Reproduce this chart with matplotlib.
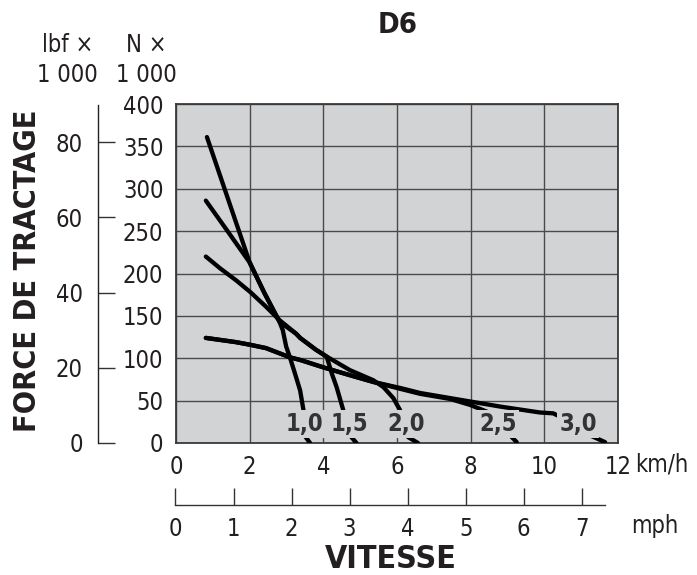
import numpy as np
import matplotlib
matplotlib.use('Agg')
import matplotlib.pyplot as plt

plt.rcParams['font.family'] = ['DejaVu Sans']
plt.rcParams['font.stretch'] = 'condensed'

# traction force curves, speed km/h vs force kN
g10_kmh = [0.84, 1.42, 2.0, 2.4, 2.81, 2.9, 2.99, 3.1, 3.23, 3.37, 3.46, 3.52, 3.64]
g10_kn = [361, 287, 213, 177, 143, 133, 114, 100, 82, 62, 39, 7, 0]
g15_kmh = [0.81, 1.4, 2.0, 2.4, 2.81, 3.26, 3.37, 3.8, 4.09, 4.23, 4.36, 4.54, 4.76, 4.9]
g15_kn = [286, 250, 213, 177, 143, 129, 124, 110, 102, 82, 66, 39, 7, 0]
g20_kmh = [0.81, 1.2, 1.63, 2.02, 2.44, 2.81, 3.26, 3.37, 3.8, 4.09, 4.72, 5.36, 5.63,
           5.9, 6.08, 6.3, 6.57]
g20_kn = [220, 206, 192, 178, 161, 145, 129, 124, 110, 102, 86, 74, 66, 53, 39, 7, 0]
g25_kmh = [0.81, 1.63, 2.0, 2.44, 3.1, 3.37, 4.02, 4.72, 5.36, 6.08, 6.63, 7.44, 7.98,
           8.44, 9.07, 9.25]
g25_kn = [124, 119, 116, 112, 101, 98, 89, 80, 72, 64, 58, 52, 45, 37, 9, 1]
g30_kmh = [0.81, 1.63, 2.0, 2.44, 3.1, 3.37, 4.02, 4.72, 5.36, 6.08, 6.63, 7.44, 8.8,
           9.88, 10.24, 10.43, 11.24, 11.65]
g30_kn = [124, 119, 116, 112, 101, 98, 89, 80, 72, 65, 59, 53, 43, 36, 35, 31, 9, 1]

gear_labels = ['1,0', '1,5', '2,0', '2,5', '3,0']
label_x = [3.49, 4.7, 6.26, 8.74, 10.92]
label_y = 22

kmh_ticks = [0, 2, 4, 6, 8, 10, 12]
kn_ticks = [0, 50, 100, 150, 200, 250, 300, 350, 400]
lbf_ticks = [0, 20, 40, 60, 80]
mph_ticks = [0, 1, 2, 3, 4, 5, 6, 7]

W, H = 697, 575
bg = '#d2d3d5'
txt = '#231f20'
fs = 17

fig = plt.figure(figsize=(W / 100, H / 100), dpi=100)

def fx(px):
    return px / W

def fy(py):
    return 1 - py / H

ax = fig.add_axes([fx(176), fy(443), fx(618) - fx(176), fy(104) - fy(443)])
ax.set_facecolor(bg)
ax.set_xlim(0, 12)
ax.set_ylim(0, 400)
ax.set_xticks(kmh_ticks)
ax.set_yticks(kn_ticks)
ax.grid(True, color='#4a4a4a', linewidth=1.0)
ax.set_axisbelow(True)
for s in ax.spines.values():
    s.set_color('#3a3a3a')
    s.set_linewidth(1.3)
ax.tick_params(length=0, labelsize=fs, labelcolor=txt, pad=9)

for xs, ys in [(g10_kmh, g10_kn), (g15_kmh, g15_kn), (g20_kmh, g20_kn),
               (g25_kmh, g25_kn), (g30_kmh, g30_kn)]:
    ax.plot(xs, ys, color='black', linewidth=3.1, solid_capstyle='round',
            solid_joinstyle='round', zorder=3)

for lab, x in zip(gear_labels, label_x):
    ax.text(x, label_y, lab, ha='center', va='center', fontsize=fs,
            fontweight='bold', color='#333333', zorder=4,
            bbox=dict(facecolor=bg, edgecolor='none', pad=1.5))

# lbf scale
axl = fig.add_axes([fx(98), fy(443), 0.001, fy(105) - fy(443)])
axl.set_ylim(0, 400 / 4.448)
axl.set_yticks(lbf_ticks)
axl.set_xticks([])
for k in ['top', 'right', 'bottom']:
    axl.spines[k].set_visible(False)
axl.spines['left'].set_linewidth(1.0)
axl.spines['left'].set_color('#222222')
axl.patch.set_visible(False)
axl.tick_params(axis='y', direction='in', length=12, width=1.0, color='#333333',
                labelsize=fs, labelcolor=txt, pad=11)

# mph scale
mph_px = 58.03
axm = fig.add_axes([fx(175.5), fy(505), fx(605) - fx(175.5), 0.001])
axm.set_xlim(0, (605 - 175.5) / mph_px)
axm.set_xticks(mph_ticks)
axm.set_yticks([])
for k in ['top', 'right', 'left']:
    axm.spines[k].set_visible(False)
axm.spines['bottom'].set_linewidth(1.0)
axm.spines['bottom'].set_color('#333333')
axm.patch.set_visible(False)
axm.tick_params(axis='x', direction='in', length=12, width=1.0, color='#333333',
                labelsize=fs, labelcolor=txt, pad=9)

fig.text(fx(635), fy(465), 'km/h', ha='left', va='center', fontsize=fs, color=txt)
fig.text(fx(631), fy(526), 'mph', ha='left', va='center', fontsize=fs, color=txt)
fig.text(fx(68), fy(45), 'lbf ×', ha='center', va='center', fontsize=fs, color=txt)
fig.text(fx(67), fy(75), '1 000', ha='center', va='center', fontsize=fs, color=txt)
fig.text(fx(146), fy(45), 'N ×', ha='center', va='center', fontsize=fs, color=txt)
fig.text(fx(146), fy(75), '1 000', ha='center', va='center', fontsize=fs, color=txt)

fig.text(fx(397.5), fy(25), 'D6', ha='center', va='center', fontsize=21,
         fontweight='bold', color=txt)
fig.text(fx(391), fy(560), 'VITESSE', ha='center', va='center', fontsize=23,
         fontweight='bold', color=txt)
fig.text(fx(28), fy(271), 'FORCE DE TRACTAGE', ha='center', va='center',
         fontsize=22, fontweight='bold', color=txt, rotation=90)

fig.savefig('out.png', dpi=100)
